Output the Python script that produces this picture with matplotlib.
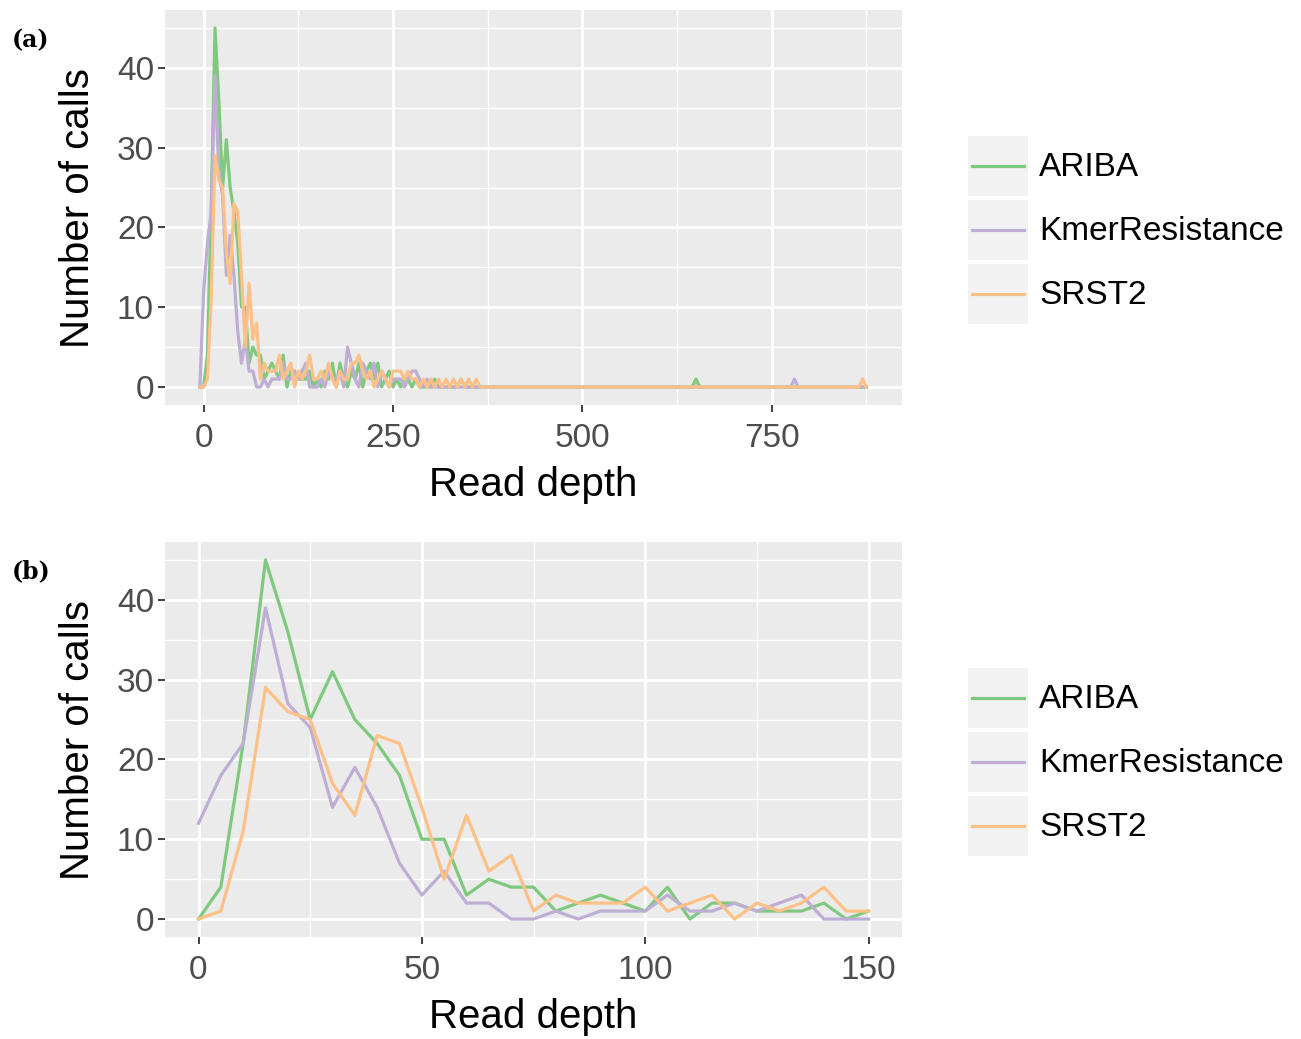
import matplotlib
matplotlib.use("Agg")
import matplotlib.pyplot as plt
from matplotlib.patches import Rectangle
from matplotlib.lines import Line2D
from matplotlib.ticker import MultipleLocator

# read depth bins (centre of each 5x bin); -5 is the empty bin ggplot adds
depth = list(range(-5, 880, 5))

# counts for depths -5..370
ariba_head = [0,
              0, 4, 22, 45, 36, 25, 31, 25, 22, 18, 10, 10, 3, 5, 4, 4, 1, 2, 3, 2,
              1, 4, 0, 2, 2, 1, 1, 1, 2, 0, 1,
              0, 2, 1, 3, 0, 3, 1, 0, 2, 1, 3, 0, 2, 3, 1, 3, 0, 1, 2, 0,
              1, 0, 1, 1, 0, 1, 0, 0, 0, 0, 1, 0, 0, 0, 0, 0, 0, 1, 0, 0, 0, 0, 0, 0]
kmer_head = [0,
             12, 18, 22, 39, 27, 24, 14, 19, 14, 7, 3, 6, 2, 2, 0, 0, 1, 0, 1, 1,
             1, 3, 1, 1, 2, 1, 2, 3, 0, 0, 0,
             1, 0, 2, 1, 1, 2, 0, 5, 3, 1, 0, 3, 2, 1, 3, 0, 2, 1, 0, 1,
             1, 1, 0, 1, 2, 2, 1, 0, 1, 0, 0, 0, 0, 0, 0, 0, 0, 0, 0, 0, 0, 0, 0, 0]
srst2_head = [0,
              0, 1, 11, 29, 26, 25, 17, 13, 23, 22, 14, 5, 13, 6, 8, 1, 3, 2, 2, 2,
              4, 1, 2, 3, 0, 2, 1, 2, 4, 1, 1,
              2, 1, 3, 1, 0, 2, 1, 1, 3, 3, 4, 2, 1, 2, 0, 1, 2, 1, 0, 2,
              2, 2, 1, 2, 1, 1, 0, 1, 0, 1, 0, 1, 0, 1, 0, 1, 0, 1, 0, 1, 0, 1, 0, 0]

# isolated calls further out (depth: count); everything else beyond 370 is zero
ariba_far = {650: 1}
kmer_far = {780: 1}
srst2_far = {870: 1}

names = ["ARIBA", "KmerResistance", "SRST2"]
colors = ["#7FC97F", "#BEAED4", "#FDC086"]


def full_series(head, far):
    vals = list(head) + [0] * (len(depth) - len(head))
    for d, c in far.items():
        vals[depth.index(d)] = c
    return vals


series = [full_series(ariba_head, ariba_far),
          full_series(kmer_head, kmer_far),
          full_series(srst2_head, srst2_far)]

W, H = 1301, 1039
fig = plt.figure(figsize=(W / 100, H / 100), dpi=100)
plt.rcParams['font.family'] = ['Liberation Sans', 'DejaVu Sans']


def px_axes(left, top, right, bottom):
    return fig.add_axes([left / W, 1 - bottom / H, (right - left) / W, (bottom - top) / H])


def style(ax, xmaj, xmin):
    ax.set_facecolor("#EBEBEB")
    for s in ax.spines.values():
        s.set_visible(False)
    ax.xaxis.set_major_locator(MultipleLocator(xmaj))
    ax.xaxis.set_minor_locator(MultipleLocator(xmin))
    ax.yaxis.set_major_locator(MultipleLocator(10))
    ax.yaxis.set_minor_locator(MultipleLocator(5))
    ax.grid(which="major", color="white", linewidth=2.0)
    ax.grid(which="minor", color="white", linewidth=1.0)
    ax.set_axisbelow(True)
    ax.tick_params(which="major", length=5, width=1.3, color="#333333",
                   labelsize=24, labelcolor="#4D4D4D", pad=3)
    ax.tick_params(axis="x", which="major", pad=8)
    ax.tick_params(which="minor", length=0)
    ax.set_ylim(-2.25, 47.25)
    ax.set_xlabel("Read depth", fontsize=29)
    ax.set_ylabel("Number of calls", fontsize=29)
    ax.yaxis.set_label_coords(-0.092, 0.5)
    ax.xaxis.set_label_coords(0.5, -0.155)


ax_a = px_axes(165, 10, 902, 405)
ax_b = px_axes(165, 542, 902, 937)

for vals, c in zip(series, colors):
    ax_a.plot(depth, vals, color=c, linewidth=2.3)
style(ax_a, 250, 125)
ax_a.set_xlim(-51, 922)

# panel (b) zooms in on depths 0..150
i0, i1 = depth.index(0), depth.index(150) + 1
for vals, c in zip(series, colors):
    ax_b.plot(depth[i0:i1], vals[i0:i1], color=c, linewidth=2.3)
style(ax_b, 50, 25)
ax_b.set_xlim(-7.5, 157.5)

# overlay in pixel coordinates for legends and panel tags
ov = fig.add_axes([0, 0, 1, 1], zorder=5)
ov.set_xlim(0, W)
ov.set_ylim(H, 0)
ov.axis("off")

for top in (136, 668):
    for i, (name, c) in enumerate(zip(names, colors)):
        y0 = top + i * 64
        ov.add_patch(Rectangle((968, y0), 60, 60, facecolor="#F2F2F2", edgecolor="none"))
        ov.add_line(Line2D([972, 1024], [y0 + 30, y0 + 30], color=c, linewidth=2.3))
        ov.text(1039, y0 + 32, name, fontsize=24, color="black", va="center", ha="left")

ov.text(12, 40, "(a)", fontsize=17, fontweight="bold", family="DejaVu Serif", va="center", ha="left")
ov.text(12, 571, "(b)", fontsize=17, fontweight="bold", family="DejaVu Serif", va="center", ha="left")

fig.savefig("out.png", dpi=100)
